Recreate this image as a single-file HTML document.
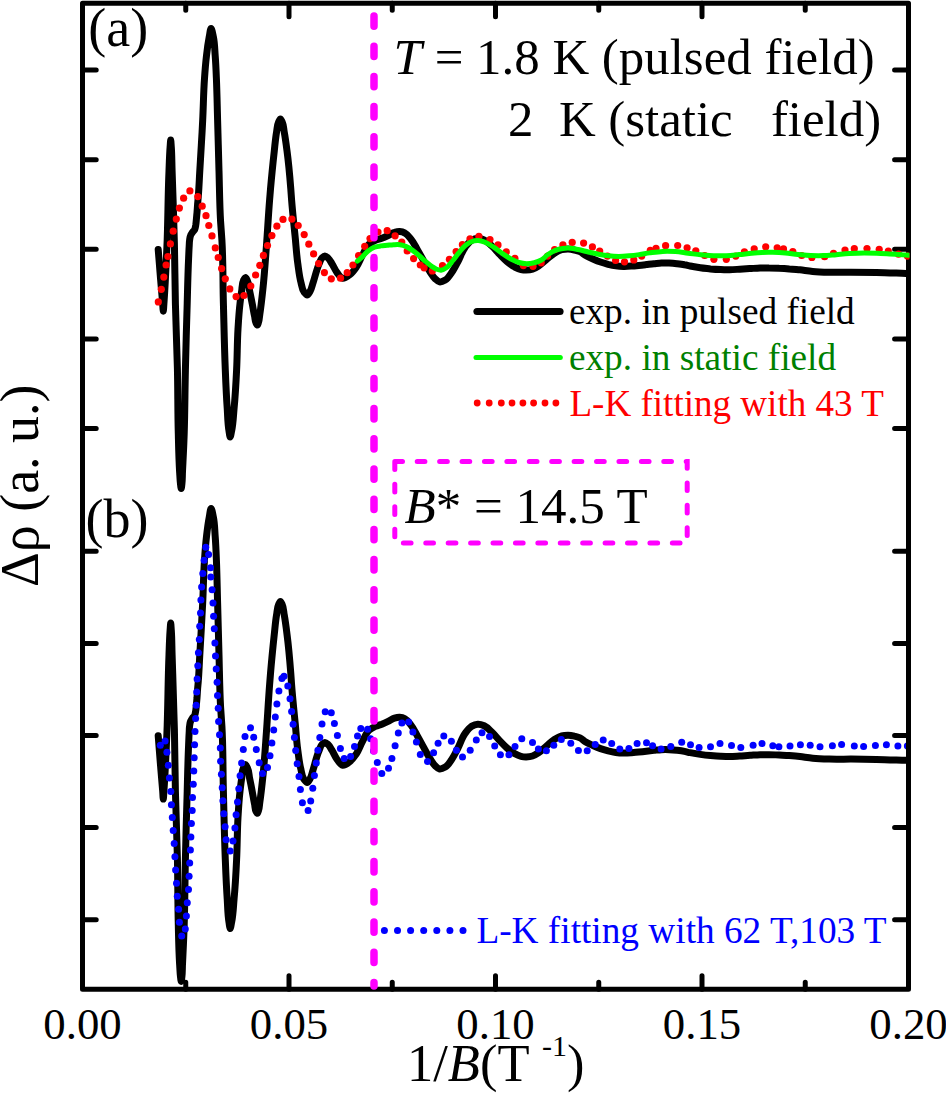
<!DOCTYPE html>
<html><head><meta charset="utf-8"><title>Fig</title><style>html,body{margin:0;padding:0;background:#fff;}body{width:946px;height:1093px;overflow:hidden;position:relative;font-family:"Liberation Serif",serif;}</style></head>
<body>
<svg width="946" height="1093" viewBox="0 0 946 1093" style="position:absolute;left:0;top:0">
<defs><clipPath id="cpA"><rect x="80" y="0" width="829.5" height="992"/></clipPath><clipPath id="cpB"><rect x="80" y="0" width="826.5" height="987"/></clipPath></defs>
<rect width="946" height="1093" fill="#fff"/>
<g clip-path="url(#cpB)"><path d="M158.2,735.7C159.0,745.5 159.7,755.3 160.5,765.1C161.2,773.8 162.0,782.6 162.7,791.3C162.9,793.9 163.1,799.1 163.3,799.1C163.5,799.1 163.7,793.9 163.9,791.3C165.3,772.0 166.1,752.6 166.9,733.2C168.0,707.1 167.9,680.9 169.0,654.8C169.3,646.6 169.5,638.5 170.1,630.3C170.3,627.9 170.5,623.1 170.7,623.1C170.9,623.1 171.1,627.9 171.3,630.3C171.9,638.5 171.8,646.6 172.1,654.8C172.9,679.7 173.8,704.6 174.4,729.5C174.9,750.1 174.9,770.7 175.4,791.3C175.9,813.6 176.9,835.8 177.4,858.0C177.9,880.3 177.7,902.7 178.3,925.0C178.6,938.0 178.8,951.1 179.6,964.1C179.9,968.3 180.0,972.6 180.5,976.8C180.7,978.3 181.0,981.4 181.2,981.4C181.4,981.4 181.7,978.3 181.9,976.8C182.4,972.6 182.3,968.3 182.5,964.1C183.1,951.1 183.8,938.0 184.2,925.0C184.9,903.2 184.9,881.4 185.4,859.6C185.9,836.8 186.5,814.1 187.2,791.3C187.6,775.9 187.9,760.5 188.6,745.1C188.8,740.7 188.9,736.4 189.2,732.1C189.3,730.1 189.3,728.1 189.6,726.1C189.8,724.7 189.9,723.1 190.4,721.7C190.8,720.5 191.6,719.4 192.3,718.3C193.0,717.3 194.1,716.4 194.7,715.2C195.3,714.0 195.4,712.4 195.7,710.9C196.1,708.8 196.2,706.5 196.4,704.4C196.6,702.2 196.8,700.0 197.0,697.9C197.2,695.0 197.4,692.0 197.6,689.1C197.8,686.4 198.1,683.7 198.3,681.0C199.0,672.3 199.3,663.5 199.8,654.8C200.3,646.1 200.8,637.4 201.3,628.7C201.8,620.0 202.3,611.3 202.7,602.6C203.4,588.4 203.5,574.2 204.5,560.0C205.0,552.2 205.6,544.3 206.5,536.5C207.2,530.1 208.0,523.6 209.2,517.3C209.8,514.3 210.4,508.4 211.1,508.4C211.8,508.4 212.8,514.3 213.4,517.3C214.7,523.5 214.7,530.1 215.2,536.5C215.8,544.3 216.1,552.2 216.4,560.0C217.0,574.2 217.2,588.4 217.6,602.6C218.1,620.0 218.5,637.4 219.0,654.8C219.5,672.2 219.6,689.7 220.6,707.1C221.0,713.4 221.5,719.7 221.9,725.9C223.2,747.7 222.8,769.5 223.4,791.3C224.0,814.1 224.4,836.8 225.3,859.6C225.8,872.6 226.3,885.7 227.2,898.7C227.7,906.6 227.7,914.5 229.0,922.3C229.3,924.4 229.8,928.4 230.2,928.5C230.6,928.5 231.2,924.4 231.6,922.3C233.2,914.6 233.4,906.6 234.1,898.7C235.3,885.7 236.0,872.6 236.6,859.6C237.3,845.5 237.2,831.5 238.0,817.4C238.5,808.7 239.0,800.0 240.0,791.3C240.5,786.9 241.0,782.5 241.7,778.2C242.2,774.6 241.9,770.7 243.5,767.6C244.0,766.5 244.8,764.7 245.4,764.6C246.1,764.5 246.9,766.9 247.5,768.1C249.0,771.1 248.9,774.8 249.6,778.2C250.5,782.5 251.4,786.9 252.2,791.3C253.0,795.7 253.7,800.0 254.6,804.4C255.1,806.7 254.9,809.2 256.0,811.3C256.4,812.0 256.9,813.2 257.3,813.3C257.8,813.4 258.2,811.3 258.6,810.2C259.4,807.8 259.4,805.0 259.8,802.4C261.1,793.8 262.0,785.0 262.9,776.3C264.5,761.3 265.4,746.2 266.5,731.1C267.6,715.7 268.4,700.2 269.6,684.8C269.9,681.0 270.2,677.3 270.5,673.5C271.6,660.4 272.9,647.3 274.3,634.2C275.0,627.7 275.5,621.2 276.6,614.7C277.2,611.3 277.1,607.7 278.6,604.6C279.1,603.6 279.8,601.6 280.4,601.6C281.0,601.6 281.7,603.6 282.2,604.6C283.7,607.7 283.6,611.3 284.2,614.7C285.4,621.2 286.2,627.7 287.0,634.2C288.7,647.3 289.8,660.4 290.8,673.5C291.1,677.3 291.3,681.1 291.6,684.8C292.6,698.0 294.0,711.1 295.3,724.2C296.1,732.9 296.6,741.6 297.8,750.2C298.7,756.7 299.3,763.4 301.0,769.7C301.8,773.0 302.0,776.8 304.0,779.4C304.9,780.5 306.1,782.5 307.1,782.5C308.1,782.5 309.2,780.2 310.0,778.9C311.7,776.2 312.1,772.8 313.1,769.7C315.2,763.3 316.4,756.4 319.2,750.2C320.1,748.3 320.5,745.9 322.0,744.4C322.8,743.6 323.9,742.4 324.9,742.4C325.9,742.4 327.1,743.6 328.0,744.4C329.7,745.9 330.7,748.2 331.9,750.2C333.8,753.2 334.9,756.6 337.0,759.3C338.7,761.5 340.5,765.0 342.7,765.3C344.9,765.7 347.9,763.1 350.0,761.4C352.6,759.4 354.5,756.4 356.4,753.7C359.0,749.8 360.4,745.1 362.7,741.0C364.7,737.3 366.1,732.9 369.1,730.2C370.9,728.6 373.2,727.4 375.4,726.4C377.4,725.5 379.7,725.0 381.8,724.2C383.9,723.3 386.0,722.3 388.1,721.3C390.3,720.3 392.2,718.8 394.5,718.1C396.1,717.6 397.9,717.1 399.6,717.2C401.4,717.3 403.4,717.9 405.0,718.8C407.5,720.1 409.2,722.8 411.0,725.1C413.6,728.4 415.3,732.3 417.4,735.9C419.6,739.7 421.6,743.6 423.7,747.4C425.8,751.2 427.7,755.2 430.1,758.8C431.7,761.2 433.1,763.9 435.2,765.8C436.5,767.0 438.0,768.7 439.6,769.0C441.4,769.3 443.6,768.1 445.3,767.1C448.1,765.5 449.8,762.1 451.7,759.4C454.2,755.9 456.0,751.8 458.0,748.0C460.5,743.2 461.9,737.7 465.1,733.4C466.9,730.9 468.8,728.0 471.4,726.4C473.3,725.3 475.6,724.3 477.8,724.2C479.9,724.1 482.2,724.9 484.2,725.8C487.1,727.1 489.4,729.8 491.8,732.1C494.5,734.7 496.8,737.7 499.4,740.4C501.9,743.0 504.3,745.7 507.0,748.0C509.4,750.1 511.9,752.2 514.7,753.7C516.7,754.8 518.8,755.8 521.0,756.3C522.6,756.7 524.4,756.9 526.1,756.9C528.2,756.9 530.5,756.7 532.5,756.0C534.7,755.3 536.8,753.8 538.8,752.5C541.5,750.7 543.9,748.2 546.4,746.1C549.0,744.0 551.3,741.5 554.1,739.7C556.5,738.2 559.0,736.6 561.7,735.9C563.7,735.4 565.9,735.3 568.0,735.3C570.1,735.3 572.3,735.7 574.4,736.2C576.3,736.6 578.3,737.1 580.0,737.9C581.9,738.8 583.5,740.6 585.3,741.7C587.7,743.2 590.3,744.3 592.9,745.5C595.4,746.6 597.9,747.7 600.5,748.6C603.0,749.5 605.5,750.2 608.1,750.9C610.6,751.5 613.2,752.1 615.8,752.5C618.3,752.9 620.9,753.1 623.4,753.1C625.9,753.1 628.5,753.0 631.0,752.8C633.5,752.6 636.1,752.4 638.6,752.1C641.2,751.8 643.7,751.5 646.3,751.2C648.8,750.9 651.4,750.6 653.9,750.3C656.4,750.1 659.0,749.8 661.5,749.7C664.0,749.6 666.6,749.6 669.1,749.7C671.7,749.8 674.2,750.0 676.8,750.3C679.3,750.6 681.9,750.9 684.4,751.4C686.3,751.8 688.3,752.3 690.2,752.7C693.5,753.4 696.9,753.9 700.3,754.4C703.7,754.9 707.1,755.3 710.5,755.6C713.9,755.9 717.3,756.2 720.7,756.3C723.7,756.4 726.6,756.5 729.6,756.5C733.0,756.5 736.3,756.2 739.7,756.0C743.1,755.8 746.5,755.5 749.9,755.3C753.3,755.1 756.7,754.8 760.1,754.7C763.1,754.6 766.0,754.7 769.0,754.7C772.4,754.7 775.7,754.9 779.1,755.0C782.5,755.2 785.9,755.3 789.3,755.6C792.9,755.9 796.4,756.2 800.0,756.6C804.2,757.1 808.5,757.8 812.7,758.2C818.2,758.7 823.7,758.9 829.2,759.1C836.4,759.3 843.6,759.1 850.8,759.1C859.3,759.1 867.8,759.2 876.3,759.4C886.2,759.6 896.2,760.0 906.1,760.3C908.1,760.4 910.0,760.4 912.0,760.5" fill="none" stroke="#000" stroke-width="7" stroke-linecap="round" stroke-linejoin="round"/>
<g fill="#0000ff"><circle cx="160.3" cy="745.2" r="3.5"/><circle cx="165.1" cy="741.0" r="3.5"/><circle cx="166.9" cy="752.3" r="3.5"/><circle cx="168.3" cy="765.2" r="3.5"/><circle cx="169.4" cy="778.1" r="3.5"/><circle cx="170.8" cy="791.5" r="3.5"/><circle cx="171.4" cy="804.8" r="3.5"/><circle cx="172.3" cy="817.5" r="3.5"/><circle cx="173.2" cy="830.6" r="3.5"/><circle cx="174.2" cy="843.6" r="3.5"/><circle cx="174.9" cy="856.7" r="3.5"/><circle cx="175.6" cy="869.9" r="3.5"/><circle cx="176.5" cy="883.3" r="3.5"/><circle cx="177.3" cy="896.2" r="3.5"/><circle cx="178.6" cy="909.3" r="3.5"/><circle cx="179.4" cy="922.3" r="3.5"/><circle cx="181.7" cy="935.9" r="3.5"/><circle cx="185.3" cy="929.0" r="3.5"/><circle cx="186.4" cy="915.9" r="3.5"/><circle cx="187.3" cy="902.8" r="3.5"/><circle cx="188.5" cy="889.6" r="3.5"/><circle cx="189.1" cy="876.3" r="3.5"/><circle cx="189.7" cy="863.1" r="3.5"/><circle cx="190.4" cy="850.0" r="3.5"/><circle cx="190.9" cy="836.9" r="3.5"/><circle cx="191.4" cy="823.6" r="3.5"/><circle cx="192.2" cy="810.5" r="3.5"/><circle cx="192.5" cy="797.5" r="3.5"/><circle cx="193.3" cy="784.2" r="3.5"/><circle cx="193.8" cy="771.1" r="3.5"/><circle cx="194.2" cy="757.7" r="3.5"/><circle cx="194.6" cy="744.8" r="3.5"/><circle cx="195.0" cy="731.6" r="3.5"/><circle cx="195.6" cy="718.5" r="3.5"/><circle cx="196.2" cy="705.2" r="3.5"/><circle cx="196.7" cy="692.1" r="3.5"/><circle cx="197.1" cy="678.9" r="3.5"/><circle cx="197.8" cy="665.8" r="3.5"/><circle cx="198.4" cy="652.7" r="3.5"/><circle cx="199.3" cy="639.4" r="3.5"/><circle cx="199.7" cy="626.2" r="3.5"/><circle cx="200.5" cy="613.0" r="3.5"/><circle cx="200.9" cy="600.0" r="3.5"/><circle cx="201.6" cy="586.9" r="3.5"/><circle cx="202.8" cy="573.6" r="3.5"/><circle cx="204.1" cy="560.3" r="3.5"/><circle cx="205.8" cy="547.2" r="3.5"/><circle cx="208.6" cy="554.6" r="3.5"/><circle cx="210.5" cy="567.8" r="3.5"/><circle cx="210.8" cy="577.1" r="3.5"/><circle cx="212.1" cy="589.8" r="3.5"/><circle cx="213.0" cy="603.1" r="3.5"/><circle cx="213.6" cy="616.2" r="3.5"/><circle cx="214.3" cy="628.7" r="3.5"/><circle cx="214.9" cy="642.9" r="3.5"/><circle cx="215.5" cy="656.0" r="3.5"/><circle cx="216.2" cy="668.9" r="3.5"/><circle cx="217.1" cy="682.3" r="3.5"/><circle cx="217.5" cy="695.4" r="3.5"/><circle cx="218.2" cy="708.3" r="3.5"/><circle cx="218.6" cy="721.4" r="3.5"/><circle cx="219.5" cy="734.8" r="3.5"/><circle cx="220.3" cy="748.0" r="3.5"/><circle cx="220.6" cy="761.2" r="3.5"/><circle cx="221.4" cy="774.3" r="3.5"/><circle cx="222.2" cy="787.7" r="3.5"/><circle cx="222.9" cy="800.8" r="3.5"/><circle cx="223.8" cy="813.7" r="3.5"/><circle cx="225.1" cy="826.8" r="3.5"/><circle cx="226.1" cy="839.8" r="3.5"/><circle cx="230.2" cy="851.0" r="3.5"/><circle cx="233.0" cy="841.1" r="3.5"/><circle cx="234.9" cy="828.0" r="3.5"/><circle cx="236.1" cy="814.7" r="3.5"/><circle cx="237.5" cy="802.0" r="3.5"/><circle cx="238.8" cy="788.7" r="3.5"/><circle cx="240.1" cy="775.8" r="3.5"/><circle cx="241.6" cy="762.9" r="3.5"/><circle cx="243.3" cy="749.6" r="3.5"/><circle cx="245.0" cy="736.6" r="3.5"/><circle cx="250.5" cy="727.7" r="3.5"/><circle cx="253.7" cy="737.3" r="3.5"/><circle cx="256.3" cy="749.6" r="3.5"/><circle cx="259.2" cy="762.7" r="3.5"/><circle cx="262.5" cy="773.5" r="3.5"/><circle cx="267.5" cy="767.6" r="3.5"/><circle cx="270.0" cy="755.8" r="3.5"/><circle cx="271.9" cy="743.1" r="3.5"/><circle cx="273.7" cy="729.9" r="3.5"/><circle cx="275.3" cy="716.9" r="3.5"/><circle cx="276.9" cy="703.9" r="3.5"/><circle cx="278.9" cy="691.1" r="3.5"/><circle cx="281.9" cy="678.4" r="3.5"/><circle cx="284.0" cy="676.2" r="3.5"/><circle cx="287.8" cy="686.0" r="3.5"/><circle cx="290.0" cy="698.7" r="3.5"/><circle cx="291.6" cy="711.4" r="3.5"/><circle cx="293.1" cy="724.3" r="3.5"/><circle cx="294.4" cy="737.5" r="3.5"/><circle cx="295.7" cy="750.5" r="3.5"/><circle cx="297.2" cy="763.7" r="3.5"/><circle cx="299.0" cy="776.5" r="3.5"/><circle cx="300.4" cy="789.6" r="3.5"/><circle cx="302.4" cy="802.7" r="3.5"/><circle cx="308.1" cy="810.5" r="3.5"/><circle cx="310.7" cy="801.0" r="3.5"/><circle cx="312.8" cy="788.3" r="3.5"/><circle cx="314.4" cy="775.5" r="3.5"/><circle cx="316.3" cy="762.9" r="3.5"/><circle cx="317.9" cy="750.3" r="3.5"/><circle cx="319.8" cy="737.5" r="3.5"/><circle cx="322.0" cy="724.1" r="3.5"/><circle cx="325.2" cy="711.8" r="3.5"/><circle cx="331.3" cy="712.8" r="3.5"/><circle cx="334.4" cy="723.5" r="3.5"/><circle cx="337.4" cy="735.6" r="3.5"/><circle cx="340.4" cy="748.6" r="3.5"/><circle cx="344.2" cy="758.4" r="3.5"/><circle cx="350.6" cy="756.4" r="3.5"/><circle cx="354.5" cy="746.5" r="3.5"/><circle cx="357.5" cy="736.0" r="3.5"/><circle cx="360.8" cy="728.6" r="3.5"/><circle cx="367.6" cy="729.2" r="3.5"/><circle cx="370.6" cy="738.8" r="3.5"/><circle cx="373.5" cy="751.0" r="3.5"/><circle cx="377.3" cy="762.6" r="3.5"/><circle cx="381.8" cy="773.4" r="3.5"/><circle cx="388.5" cy="768.3" r="3.5"/><circle cx="391.9" cy="758.4" r="3.5"/><circle cx="395.1" cy="745.8" r="3.5"/><circle cx="398.3" cy="733.1" r="3.5"/><circle cx="401.9" cy="723.0" r="3.5"/><circle cx="408.7" cy="721.9" r="3.5"/><circle cx="412.9" cy="731.9" r="3.5"/><circle cx="416.4" cy="742.0" r="3.5"/><circle cx="420.3" cy="754.4" r="3.5"/><circle cx="427.5" cy="761.4" r="3.5"/><circle cx="433.6" cy="752.8" r="3.5"/><circle cx="438.1" cy="743.2" r="3.5"/><circle cx="443.8" cy="735.9" r="3.5"/><circle cx="451.4" cy="741.3" r="3.5"/><circle cx="456.4" cy="750.3" r="3.5"/><circle cx="462.5" cy="757.0" r="3.5"/><circle cx="470.2" cy="750.2" r="3.5"/><circle cx="476.3" cy="740.1" r="3.5"/><circle cx="482.0" cy="732.8" r="3.5"/><circle cx="489.5" cy="736.6" r="3.5"/><circle cx="494.7" cy="746.1" r="3.5"/><circle cx="500.4" cy="754.7" r="3.5"/><circle cx="508.9" cy="754.7" r="3.5"/><circle cx="515.0" cy="746.5" r="3.5"/><circle cx="521.8" cy="738.7" r="3.5"/><circle cx="532.5" cy="742.5" r="3.5"/><circle cx="538.4" cy="749.0" r="3.5"/><circle cx="546.4" cy="750.8" r="3.5"/><circle cx="553.8" cy="745.2" r="3.5"/><circle cx="561.3" cy="739.5" r="3.5"/><circle cx="570.8" cy="743.2" r="3.5"/><circle cx="578.4" cy="750.5" r="3.5"/><circle cx="587.2" cy="750.8" r="3.5"/><circle cx="595.2" cy="744.6" r="3.5"/><circle cx="603.2" cy="740.1" r="3.5"/><circle cx="611.7" cy="743.6" r="3.5"/><circle cx="619.8" cy="749.0" r="3.5"/><circle cx="628.9" cy="748.6" r="3.5"/><circle cx="637.1" cy="743.6" r="3.5"/><circle cx="646.5" cy="742.7" r="3.5"/><circle cx="652.6" cy="745.7" r="3.5"/><circle cx="661.1" cy="749.0" r="3.5"/><circle cx="670.8" cy="746.5" r="3.5"/><circle cx="681.7" cy="742.3" r="3.5"/><circle cx="690.5" cy="744.8" r="3.5"/><circle cx="699.1" cy="747.6" r="3.5"/><circle cx="710.5" cy="746.7" r="3.5"/><circle cx="720.0" cy="743.6" r="3.5"/><circle cx="731.5" cy="745.5" r="3.5"/><circle cx="740.8" cy="747.4" r="3.5"/><circle cx="753.1" cy="745.2" r="3.5"/><circle cx="762.0" cy="743.6" r="3.5"/><circle cx="772.8" cy="745.7" r="3.5"/><circle cx="778.9" cy="746.7" r="3.5"/><circle cx="790.0" cy="746.1" r="3.5"/><circle cx="800.4" cy="744.7" r="3.5"/><circle cx="810.2" cy="745.2" r="3.5"/><circle cx="820.0" cy="746.7" r="3.5"/><circle cx="832.4" cy="745.7" r="3.5"/><circle cx="841.6" cy="744.4" r="3.5"/><circle cx="854.3" cy="746.1" r="3.5"/><circle cx="863.6" cy="746.5" r="3.5"/><circle cx="875.4" cy="745.5" r="3.5"/><circle cx="886.4" cy="744.8" r="3.5"/><circle cx="897.9" cy="746.1" r="3.5"/><circle cx="907.4" cy="746.1" r="3.5"/></g>
<path d="M158.2,249.5C159.0,259.0 159.7,268.6 160.5,278.1C161.2,286.6 162.0,295.1 162.7,303.6C162.9,306.1 163.1,311.2 163.3,311.2C163.5,311.2 163.7,306.1 163.9,303.6C165.3,284.8 166.1,265.9 166.9,247.1C168.0,221.7 167.9,196.2 169.0,170.8C169.3,162.9 169.5,154.9 170.1,147.0C170.3,144.7 170.5,140.0 170.7,140.0C170.9,140.0 171.1,144.7 171.3,147.0C171.9,154.9 171.8,162.9 172.1,170.8C172.9,195.0 173.8,219.3 174.4,243.5C174.9,263.5 174.9,283.6 175.4,303.6C175.9,325.2 176.9,346.9 177.4,368.5C177.9,390.2 177.7,411.9 178.3,433.6C178.6,446.3 178.8,459.0 179.6,471.7C179.9,475.8 180.0,479.9 180.5,484.0C180.7,485.5 181.0,488.5 181.2,488.5C181.4,488.5 181.7,485.5 181.9,484.0C182.4,479.9 182.3,475.8 182.5,471.7C183.1,459.0 183.8,446.3 184.2,433.6C184.9,412.4 184.9,391.2 185.4,370.0C185.9,347.9 186.5,325.7 187.2,303.6C187.6,288.6 187.9,273.6 188.6,258.6C188.8,254.4 188.9,250.2 189.2,246.0C189.3,244.1 189.3,242.1 189.6,240.2C189.8,238.8 189.9,237.2 190.4,235.9C190.8,234.7 191.6,233.6 192.3,232.6C193.0,231.5 194.1,230.7 194.7,229.6C195.3,228.3 195.4,226.8 195.7,225.4C196.1,223.3 196.2,221.1 196.4,219.0C196.6,216.9 196.8,214.8 197.0,212.7C197.2,209.9 197.4,207.0 197.6,204.2C197.8,201.6 198.1,198.9 198.3,196.3C199.0,187.8 199.3,179.3 199.8,170.8C200.3,162.3 200.8,153.9 201.3,145.4C201.8,136.9 202.3,128.5 202.7,120.0C203.4,106.2 203.5,92.4 204.5,78.6C205.0,71.0 205.6,63.3 206.5,55.7C207.2,49.4 208.0,43.2 209.2,37.0C209.8,34.1 210.4,28.4 211.1,28.4C211.8,28.4 212.8,34.1 213.4,37.0C214.7,43.1 214.7,49.5 215.2,55.7C215.8,63.3 216.1,71.0 216.4,78.6C217.0,92.4 217.2,106.2 217.6,120.0C218.1,136.9 218.5,153.9 219.0,170.8C219.5,187.8 219.6,204.8 220.6,221.7C221.0,227.8 221.5,233.9 221.9,240.0C223.2,261.2 222.8,282.4 223.4,303.6C224.0,325.7 224.4,347.9 225.3,370.0C225.8,382.7 226.3,395.4 227.2,408.1C227.7,415.7 227.7,423.5 229.0,431.0C229.3,433.0 229.8,437.0 230.2,437.0C230.6,437.0 231.2,433.0 231.6,431.0C233.2,423.5 233.4,415.7 234.1,408.1C235.3,395.4 236.0,382.7 236.6,370.0C237.3,356.3 237.2,342.6 238.0,329.0C238.5,320.5 239.0,312.0 240.0,303.6C240.5,299.3 241.0,295.1 241.7,290.8C242.2,287.4 241.9,283.5 243.5,280.5C244.0,279.5 244.8,277.7 245.4,277.6C246.1,277.5 246.9,279.8 247.5,281.0C249.0,284.0 248.9,287.5 249.6,290.8C250.5,295.1 251.4,299.3 252.2,303.6C253.0,307.8 253.7,312.1 254.6,316.3C255.1,318.5 255.0,321.0 256.0,323.0C256.4,323.7 256.9,324.9 257.3,325.0C257.8,325.1 258.2,323.0 258.6,322.0C259.4,319.6 259.4,316.9 259.8,314.4C261.1,306.0 262.0,297.5 262.9,289.0C264.5,274.4 265.4,259.7 266.5,245.0C267.6,230.0 268.4,215.0 269.6,200.0C269.9,196.3 270.2,192.7 270.5,189.0C271.6,176.3 272.9,163.5 274.3,150.8C275.0,144.5 275.5,138.1 276.6,131.8C277.2,128.5 277.2,125.0 278.6,122.0C279.1,121.0 279.8,119.0 280.4,119.0C281.0,119.0 281.7,121.0 282.2,122.0C283.6,125.0 283.6,128.5 284.2,131.8C285.4,138.1 286.2,144.5 287.0,150.8C288.7,163.5 289.8,176.2 290.8,189.0C291.1,192.7 291.3,196.3 291.6,200.0C292.6,212.8 294.0,225.5 295.3,238.3C296.1,246.7 296.6,255.2 297.8,263.6C298.7,270.0 299.3,276.4 301.0,282.6C301.8,285.8 302.1,289.5 304.0,292.0C304.9,293.1 306.1,295.0 307.1,295.0C308.1,295.0 309.2,292.8 310.0,291.5C311.7,288.9 312.1,285.6 313.1,282.6C315.2,276.3 316.5,269.6 319.2,263.6C320.1,261.7 320.6,259.4 322.0,258.0C322.8,257.2 323.9,256.0 324.9,256.0C325.9,256.0 327.1,257.2 328.0,258.0C329.7,259.5 330.7,261.7 331.9,263.6C333.8,266.5 334.9,269.8 337.0,272.5C338.7,274.6 340.5,278.0 342.7,278.3C344.9,278.7 347.9,276.1 350.0,274.5C352.6,272.5 354.5,269.7 356.4,267.0C359.0,263.2 360.4,258.7 362.7,254.7C364.7,251.1 366.1,246.8 369.1,244.1C370.9,242.6 373.2,241.4 375.4,240.4C377.4,239.5 379.7,239.1 381.8,238.3C383.9,237.5 386.0,236.5 388.1,235.5C390.2,234.5 392.2,233.0 394.5,232.4C396.1,231.9 397.9,231.4 399.6,231.5C401.4,231.6 403.4,232.2 405.0,233.1C407.5,234.3 409.2,237.0 411.0,239.2C413.6,242.3 415.3,246.2 417.4,249.7C419.6,253.4 421.6,257.2 423.7,260.9C425.8,264.6 427.7,268.4 430.1,272.0C431.7,274.3 433.1,276.9 435.2,278.8C436.5,280.0 438.0,281.6 439.6,281.9C441.4,282.2 443.6,281.0 445.3,280.0C448.0,278.5 449.8,275.2 451.7,272.5C454.2,269.1 456.0,265.2 458.0,261.5C460.5,256.8 462.0,251.5 465.1,247.3C466.9,244.8 468.8,242.0 471.4,240.4C473.3,239.3 475.6,238.4 477.8,238.3C479.9,238.2 482.2,239.0 484.2,239.9C487.1,241.1 489.4,243.8 491.8,246.0C494.5,248.5 496.8,251.4 499.4,254.1C501.9,256.6 504.3,259.2 507.0,261.5C509.4,263.5 511.9,265.5 514.7,267.0C516.7,268.0 518.8,269.0 521.0,269.5C522.7,269.9 524.4,270.1 526.1,270.1C528.2,270.1 530.5,269.9 532.5,269.2C534.7,268.5 536.8,267.1 538.8,265.8C541.5,264.1 543.9,261.7 546.4,259.6C549.0,257.5 551.3,255.1 554.1,253.4C556.5,251.9 559.0,250.4 561.7,249.7C563.7,249.2 565.9,249.1 568.0,249.1C570.1,249.1 572.3,249.5 574.4,250.0C576.3,250.4 578.3,250.8 580.0,251.6C581.9,252.5 583.5,254.2 585.3,255.3C587.7,256.8 590.3,257.9 592.9,259.0C595.4,260.1 597.9,261.2 600.5,262.0C603.0,262.9 605.5,263.6 608.1,264.3C610.6,264.9 613.2,265.5 615.8,265.8C618.3,266.2 620.9,266.4 623.4,266.4C625.9,266.5 628.5,266.3 631.0,266.1C633.5,266.0 636.1,265.7 638.6,265.4C641.2,265.2 643.7,264.9 646.3,264.6C648.8,264.3 651.4,263.9 653.9,263.7C656.4,263.5 659.0,263.2 661.5,263.1C664.0,263.0 666.6,263.0 669.1,263.1C671.7,263.2 674.2,263.4 676.8,263.7C679.3,264.0 681.9,264.3 684.4,264.8C686.3,265.1 688.3,265.6 690.2,266.0C693.5,266.7 696.9,267.2 700.3,267.7C703.7,268.2 707.1,268.5 710.5,268.9C713.9,269.2 717.3,269.4 720.7,269.5C723.7,269.7 726.6,269.8 729.6,269.7C733.0,269.7 736.3,269.4 739.7,269.2C743.1,269.0 746.5,268.8 749.9,268.6C753.3,268.4 756.7,268.1 760.1,268.0C763.1,267.9 766.0,267.9 769.0,268.0C772.4,268.0 775.7,268.1 779.1,268.3C782.5,268.4 785.9,268.6 789.3,268.9C792.9,269.1 796.4,269.5 800.0,269.8C804.2,270.3 808.5,271.0 812.7,271.4C818.2,271.9 823.7,272.1 829.2,272.3C836.4,272.5 843.6,272.2 850.8,272.3C859.3,272.3 867.8,272.4 876.3,272.5C886.2,272.7 896.2,273.1 906.1,273.4C908.1,273.5 910.0,273.6 912.0,273.6" fill="none" stroke="#000" stroke-width="7" stroke-linecap="round" stroke-linejoin="round"/></g>
<g stroke="#000" stroke-width="5" stroke-linecap="round" stroke-linejoin="round" fill="none">
<rect x="82.5" y="3.3" width="826.0" height="986.0"/>
<path d="M82.5,70.1H96.2M908.5,70.1H894.6"/>
<path d="M82.5,159.7H96.2M908.5,159.7H894.6"/>
<path d="M82.5,249.3H96.2M908.5,249.3H894.6"/>
<path d="M82.5,338.9H96.2M908.5,338.9H894.6"/>
<path d="M82.5,428.5H96.2M908.5,428.5H894.6"/>
<path d="M82.5,551.3H96.2M908.5,551.3H894.6"/>
<path d="M82.5,643.4H96.2M908.5,643.4H894.6"/>
<path d="M82.5,735.5H96.2M908.5,735.5H894.6"/>
<path d="M82.5,827.6H96.2M908.5,827.6H894.6"/>
<path d="M82.5,919.7H96.2M908.5,919.7H894.6"/>
<path d="M185.75,3.3V10.3M185.75,989.3V982.3"/>
<path d="M289,3.3V16.8M289,989.3V975.8"/>
<path d="M392.25,3.3V10.3M392.25,989.3V982.3"/>
<path d="M495.5,3.3V16.8M495.5,989.3V975.8"/>
<path d="M598.75,3.3V10.3M598.75,989.3V982.3"/>
<path d="M702,3.3V16.8M702,989.3V975.8"/>
<path d="M805.25,3.3V10.3M805.25,989.3V982.3"/>
</g>
<g clip-path="url(#cpA)"><g fill="#ff0000"><circle cx="158.3" cy="301.9" r="3.6"/><circle cx="161.3" cy="289.3" r="3.6"/><circle cx="163.8" cy="277.1" r="3.6"/><circle cx="166.1" cy="265.0" r="3.6"/><circle cx="167.9" cy="256.5" r="3.6"/><circle cx="170.4" cy="243.9" r="3.6"/><circle cx="173.2" cy="231.2" r="3.6"/><circle cx="176.3" cy="219.1" r="3.6"/><circle cx="179.4" cy="208.1" r="3.6"/><circle cx="183.6" cy="198.2" r="3.6"/><circle cx="189.9" cy="190.9" r="3.6"/><circle cx="197.8" cy="196.6" r="3.6"/><circle cx="202.2" cy="206.2" r="3.6"/><circle cx="206.0" cy="215.7" r="3.6"/><circle cx="208.8" cy="225.5" r="3.6"/><circle cx="212.0" cy="235.9" r="3.6"/><circle cx="215.3" cy="247.9" r="3.6"/><circle cx="218.2" cy="257.5" r="3.6"/><circle cx="221.6" cy="268.6" r="3.6"/><circle cx="225.3" cy="278.8" r="3.6"/><circle cx="229.8" cy="288.9" r="3.6"/><circle cx="236.1" cy="296.6" r="3.6"/><circle cx="243.9" cy="295.5" r="3.6"/><circle cx="250.8" cy="286.0" r="3.6"/><circle cx="255.6" cy="275.0" r="3.6"/><circle cx="259.8" cy="265.3" r="3.6"/><circle cx="263.4" cy="255.4" r="3.6"/><circle cx="267.5" cy="245.5" r="3.6"/><circle cx="271.9" cy="235.6" r="3.6"/><circle cx="276.9" cy="226.2" r="3.6"/><circle cx="283.0" cy="219.4" r="3.6"/><circle cx="291.9" cy="219.1" r="3.6"/><circle cx="298.2" cy="225.5" r="3.6"/><circle cx="304.2" cy="234.6" r="3.6"/><circle cx="308.8" cy="244.2" r="3.6"/><circle cx="313.6" cy="253.9" r="3.6"/><circle cx="318.6" cy="263.6" r="3.6"/><circle cx="324.4" cy="272.6" r="3.6"/><circle cx="331.3" cy="278.8" r="3.6"/><circle cx="340.5" cy="278.2" r="3.6"/><circle cx="347.2" cy="272.7" r="3.6"/><circle cx="352.9" cy="265.0" r="3.6"/><circle cx="358.6" cy="255.5" r="3.6"/><circle cx="364.7" cy="246.3" r="3.6"/><circle cx="370.0" cy="238.6" r="3.6"/><circle cx="378.0" cy="232.0" r="3.6"/><circle cx="387.2" cy="230.7" r="3.6"/><circle cx="395.1" cy="235.8" r="3.6"/><circle cx="401.8" cy="242.1" r="3.6"/><circle cx="407.2" cy="251.0" r="3.6"/><circle cx="413.6" cy="258.6" r="3.6"/><circle cx="420.3" cy="265.0" r="3.6"/><circle cx="424.1" cy="267.8" r="3.6"/><circle cx="432.3" cy="270.9" r="3.6"/><circle cx="442.5" cy="265.7" r="3.6"/><circle cx="449.4" cy="259.3" r="3.6"/><circle cx="456.1" cy="251.6" r="3.6"/><circle cx="462.4" cy="244.7" r="3.6"/><circle cx="470.0" cy="238.9" r="3.6"/><circle cx="478.9" cy="236.4" r="3.6"/><circle cx="490.0" cy="239.6" r="3.6"/><circle cx="498.0" cy="244.9" r="3.6"/><circle cx="506.3" cy="251.9" r="3.6"/><circle cx="514.9" cy="258.3" r="3.6"/><circle cx="523.4" cy="265.6" r="3.6"/><circle cx="533.0" cy="266.3" r="3.6"/><circle cx="541.2" cy="262.8" r="3.6"/><circle cx="547.6" cy="256.1" r="3.6"/><circle cx="554.6" cy="249.7" r="3.6"/><circle cx="562.9" cy="244.9" r="3.6"/><circle cx="572.2" cy="242.4" r="3.6"/><circle cx="583.6" cy="243.1" r="3.6"/><circle cx="592.4" cy="246.9" r="3.6"/><circle cx="599.7" cy="251.0" r="3.6"/><circle cx="607.4" cy="256.1" r="3.6"/><circle cx="615.6" cy="260.5" r="3.6"/><circle cx="624.5" cy="261.8" r="3.6"/><circle cx="633.8" cy="259.9" r="3.6"/><circle cx="641.7" cy="256.1" r="3.6"/><circle cx="650.3" cy="250.4" r="3.6"/><circle cx="656.0" cy="248.3" r="3.6"/><circle cx="665.6" cy="245.7" r="3.6"/><circle cx="677.7" cy="245.5" r="3.6"/><circle cx="687.1" cy="247.8" r="3.6"/><circle cx="695.8" cy="250.8" r="3.6"/><circle cx="704.7" cy="255.5" r="3.6"/><circle cx="713.9" cy="259.3" r="3.6"/><circle cx="726.3" cy="259.3" r="3.6"/><circle cx="735.8" cy="256.1" r="3.6"/><circle cx="744.4" cy="251.9" r="3.6"/><circle cx="754.2" cy="248.9" r="3.6"/><circle cx="765.7" cy="246.8" r="3.6"/><circle cx="777.2" cy="247.8" r="3.6"/><circle cx="783.5" cy="248.9" r="3.6"/><circle cx="792.8" cy="251.6" r="3.6"/><circle cx="801.7" cy="255.5" r="3.6"/><circle cx="811.9" cy="257.4" r="3.6"/><circle cx="824.6" cy="256.7" r="3.6"/><circle cx="833.5" cy="253.3" r="3.6"/><circle cx="845.0" cy="250.1" r="3.6"/><circle cx="854.3" cy="248.7" r="3.6"/><circle cx="867.0" cy="248.5" r="3.6"/><circle cx="879.2" cy="249.3" r="3.6"/><circle cx="888.3" cy="251.0" r="3.6"/><circle cx="898.5" cy="254.2" r="3.6"/><circle cx="907.4" cy="256.1" r="3.6"/></g>
<path d="M357.3,261.2C358.8,259.9 360.3,258.7 361.8,257.4C364.0,255.4 365.7,252.8 368.1,251.0C370.1,249.5 372.2,248.1 374.5,247.2C376.5,246.5 378.7,246.2 380.8,245.9C382.9,245.6 385.1,245.5 387.2,245.3C389.3,245.1 391.5,244.8 393.6,244.7C395.7,244.6 397.8,244.4 399.9,244.7C402.1,245.0 404.3,245.7 406.3,246.6C408.5,247.6 410.6,249.0 412.6,250.4C414.8,251.9 416.9,253.7 419.0,255.5C421.2,257.3 423.1,259.4 425.3,261.2C427.4,263.0 429.4,264.8 431.7,266.3C433.2,267.3 434.8,268.5 436.5,269.2C437.9,269.7 439.5,270.3 441.0,270.2C443.0,270.1 445.0,268.7 446.7,267.5C449.2,265.8 450.9,262.9 452.9,260.5C455.1,257.8 457.0,254.9 459.2,252.3C461.2,249.9 463.1,247.2 465.6,245.3C467.5,243.8 469.6,242.3 471.9,241.5C473.9,240.8 476.2,240.5 478.3,240.6C480.5,240.7 482.7,241.4 484.7,242.1C487.9,243.2 490.7,245.4 493.6,247.2C496.7,249.2 499.5,251.5 502.5,253.6C505.4,255.6 508.3,257.7 511.4,259.3C513.8,260.5 516.4,261.8 519.0,262.5C521.5,263.2 524.1,263.7 526.6,263.7C529.1,263.7 531.7,263.3 534.2,262.7C536.7,262.1 539.2,261.3 541.4,260.0C543.7,258.7 545.4,256.3 547.6,254.8C550.0,253.1 552.6,251.5 555.3,250.4C557.7,249.5 560.3,248.9 562.9,248.5C565.4,248.1 568.0,248.0 570.5,248.2C573.1,248.4 575.6,249.0 578.1,249.5C581.5,250.2 584.9,251.2 588.3,252.0C591.7,252.8 595.1,253.6 598.5,254.2C601.8,254.8 605.2,255.4 608.6,255.8C612.0,256.2 615.4,256.4 618.8,256.4C622.2,256.4 625.6,256.1 629.0,255.8C632.4,255.5 635.7,255.1 639.1,254.6C642.6,254.1 646.1,253.4 649.6,252.9C654.0,252.3 658.3,251.6 662.7,251.4C666.9,251.2 671.2,251.3 675.4,251.6C679.6,251.9 683.9,252.7 688.1,253.2C692.3,253.7 696.6,254.4 700.8,254.8C705.1,255.2 709.3,255.7 713.6,255.8C717.8,255.9 722.1,255.9 726.3,255.7C730.5,255.5 734.8,255.0 739.0,254.6C743.2,254.2 747.5,253.6 751.7,253.2C755.1,252.9 758.6,252.6 762.0,252.4C765.6,252.2 769.1,252.2 772.7,252.3C776.9,252.4 781.2,252.6 785.4,252.9C789.6,253.3 793.9,254.0 798.1,254.4C802.3,254.8 806.6,255.3 810.8,255.5C815.1,255.7 819.3,255.7 823.6,255.6C827.8,255.5 832.1,255.0 836.3,254.7C840.5,254.3 844.8,253.8 849.0,253.5C854.0,253.2 859.1,252.9 864.1,252.9C868.3,252.9 872.6,253.0 876.8,253.2C881.1,253.4 885.3,253.6 889.6,253.9C893.8,254.2 898.1,254.5 902.3,254.8C904.6,254.9 907.0,255.1 909.3,255.2" fill="none" stroke="#00ff00" stroke-width="5" stroke-linecap="round" stroke-linejoin="round"/></g>
<path d="M477,311.5H560" stroke="#000" stroke-width="7.2" stroke-linecap="round"/>
<path d="M476,357.5H560.3" stroke="#00ff00" stroke-width="5" stroke-linecap="round"/>
<g fill="#ff0000"><circle cx="477.2" cy="403.0" r="3.4"/><circle cx="489.2" cy="403.0" r="3.4"/><circle cx="501.3" cy="403.0" r="3.4"/><circle cx="512.0" cy="403.0" r="3.4"/><circle cx="522.9" cy="403.0" r="3.4"/><circle cx="533.6" cy="403.0" r="3.4"/><circle cx="545.0" cy="403.0" r="3.4"/><circle cx="555.9" cy="403.0" r="3.4"/></g>
<g fill="#0000ff"><circle cx="384.4" cy="930.4" r="3.5"/><circle cx="397.5" cy="930.4" r="3.5"/><circle cx="410.6" cy="930.4" r="3.5"/><circle cx="423.7" cy="930.4" r="3.5"/><circle cx="436.8" cy="930.4" r="3.5"/><circle cx="449.9" cy="930.4" r="3.5"/><circle cx="463.0" cy="930.4" r="3.5"/></g>
<path d="M374,16V986" stroke="#ff00ff" stroke-width="7.5" stroke-linecap="round" stroke-dasharray="10.3 19.9" fill="none"/>
<path d="M394.8,461.5H687.2V543H394.8Z" stroke="#ff00ff" stroke-width="5" stroke-linecap="round" stroke-dasharray="7.7 14.715" fill="none"/>
<g font-family="'Liberation Serif', serif" style="white-space:pre">
<text xml:space="preserve" x="88.3" y="45.7" font-size="54" fill="#000" text-anchor="start" >(a)</text>
<text xml:space="preserve" x="85.5" y="536.6" font-size="54" fill="#000" text-anchor="start" >(b)</text>
<text xml:space="preserve" x="393.6" y="74.4" font-size="50.9" fill="#000" text-anchor="start" ><tspan font-style="italic">T</tspan> = 1.8 K (pulsed field)</text>
<text xml:space="preserve" x="508" y="136.4" font-size="50.9" fill="#000" text-anchor="start" >2  K (static   field)</text>
<text xml:space="preserve" x="568.9" y="324" font-size="37.3" fill="#000" text-anchor="start" >exp. in pulsed field</text>
<text xml:space="preserve" x="568.9" y="370" font-size="37.3" fill="#008000" text-anchor="start" >exp. in static field</text>
<text xml:space="preserve" x="569.4" y="416" font-size="37.1" fill="#ff0000" text-anchor="start" >L-K fitting with 43 T</text>
<text xml:space="preserve" x="476.4" y="942.7" font-size="37.3" fill="#0000ff" text-anchor="start" >L-K fitting with 62 T,103 T</text>
<text xml:space="preserve" x="404.6" y="522.5" font-size="51" fill="#000" text-anchor="start" ><tspan font-style="italic">B</tspan>* = 14.5 T</text>
<text xml:space="preserve" x="82.5" y="1038.9" font-size="44.8" fill="#000" text-anchor="middle" >0.00</text>
<text xml:space="preserve" x="289" y="1038.9" font-size="44.8" fill="#000" text-anchor="middle" >0.05</text>
<text xml:space="preserve" x="495.5" y="1038.9" font-size="44.8" fill="#000" text-anchor="middle" >0.10</text>
<text xml:space="preserve" x="702" y="1038.9" font-size="44.8" fill="#000" text-anchor="middle" >0.15</text>
<text xml:space="preserve" x="908.5" y="1038.9" font-size="44.8" fill="#000" text-anchor="middle" >0.20</text>
<text xml:space="preserve" x="407" y="1081.4" font-size="52.5" fill="#000" text-anchor="start" >1/<tspan font-style="italic">B</tspan>(T</text>
<text xml:space="preserve" x="542" y="1056.4" font-size="30" fill="#000" text-anchor="start" >-1</text>
<text xml:space="preserve" x="567" y="1081.4" font-size="52.5" fill="#000" text-anchor="start" >)</text>
<text transform="translate(38,587) rotate(-90)" font-size="54">Δρ (a. u.)</text>
</g>
</svg>
</body></html>
